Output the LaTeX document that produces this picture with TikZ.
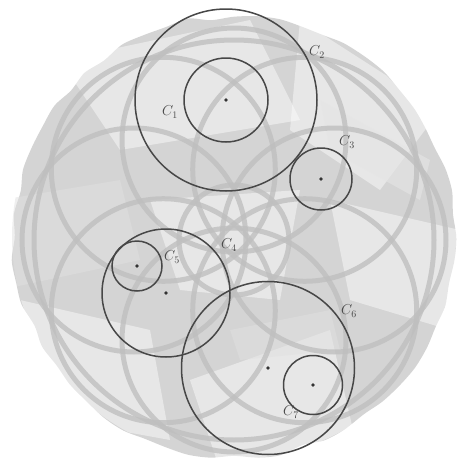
\documentclass[tikz,border=0pt]{standalone}
\usetikzlibrary{calc}
\begin{document}
\begin{tikzpicture}[x=1pt,y=-1pt,
  ring/.style={line width=1.5pt, black!72},
  faint/.style={line width=5pt, black!25, opacity=0.8},
  patch/.style={fill=white, opacity=0.45},
  lbl/.style={font=\fontsize{14}{16}\selectfont, text=black!72, inner sep=0pt},
  ctr/.style={fill=black!80}]
  \useasboundingbox (0,0) rectangle (468,469);
  \pgfmathsetseed{11}

  % crumpled paper disc
  \path[fill=black!17] plot[smooth cycle, variable=\t, samples at={0,6,...,354}]
    ({234+(221+3*rand)*cos(\t)},{237+(221+3*rand)*sin(\t)});
  \begin{scope}
    \clip (234,237) circle (222);
    \fill[patch] (60,60) -- (250,20) -- (300,120) -- (120,150) -- cycle;
    \fill[patch] (300,20) -- (440,110) -- (380,190) -- (290,130) -- cycle;
    \fill[patch] (150,200) -- (300,190) -- (280,300) -- (180,290) -- cycle;
    \fill[patch] (330,200) -- (460,230) -- (450,330) -- (350,300) -- cycle;
    \fill[patch] (20,300) -- (150,330) -- (170,440) -- (60,420) -- cycle;
    \fill[patch] (190,380) -- (330,330) -- (360,460) -- (220,470) -- cycle;
    \fill[black!12, opacity=0.5] (0,200) -- (120,180) -- (140,260) -- (0,290) -- cycle;
    \fill[black!12, opacity=0.5] (230,330) -- (330,310) -- (340,350) -- (240,360) -- cycle;
    \fill[black!10, opacity=0.6] (320,100) -- (430,160) -- (420,200) -- (330,150) -- cycle;
    % faint printed pattern
    \draw[faint] (234,240) circle (200);
    \foreach \a in {0,45,...,315}
      \draw[faint] ($(234,240)+(\a:100)$) circle (112);
    \draw[faint] (234,240) circle (55);
  \end{scope}

  % centres
  \coordinate (o12) at (226,100);
  \coordinate (o3) at (321,179);
  \coordinate (o4) at (166,293);
  \coordinate (o5) at (137,266);
  \coordinate (o6) at (268,368);
  \coordinate (o7) at (313,385);

  \draw[ring] (o12) circle (91);
  \draw[ring] (o12) circle (42);
  \draw[ring] (o3) circle (31);
  \draw[ring] (o4) circle (64);
  \draw[ring] (o5) circle (25);
  \draw[ring] (o6) circle (86.5);
  \draw[ring] (o7) circle (29.5);

  \foreach \c in {o12,o3,o4,o5,o6,o7}
    \fill[ctr] (\c) circle (1.8);

  \node[lbl] (l1) at (170,112) {$C_1$};
  \node[lbl] (l2) at (317,52) {$C_2$};
  \node[lbl] (l3) at (347,142) {$C_3$};
  \node[lbl] (l4) at (229,245) {$C_4$};
  \node[lbl] (l5) at (172,257) {$C_5$};
  \node[lbl] (l6) at (349,311) {$C_6$};
  \node[lbl] (l7) at (291,412) {$C_7$};
\end{tikzpicture}
\end{document}
